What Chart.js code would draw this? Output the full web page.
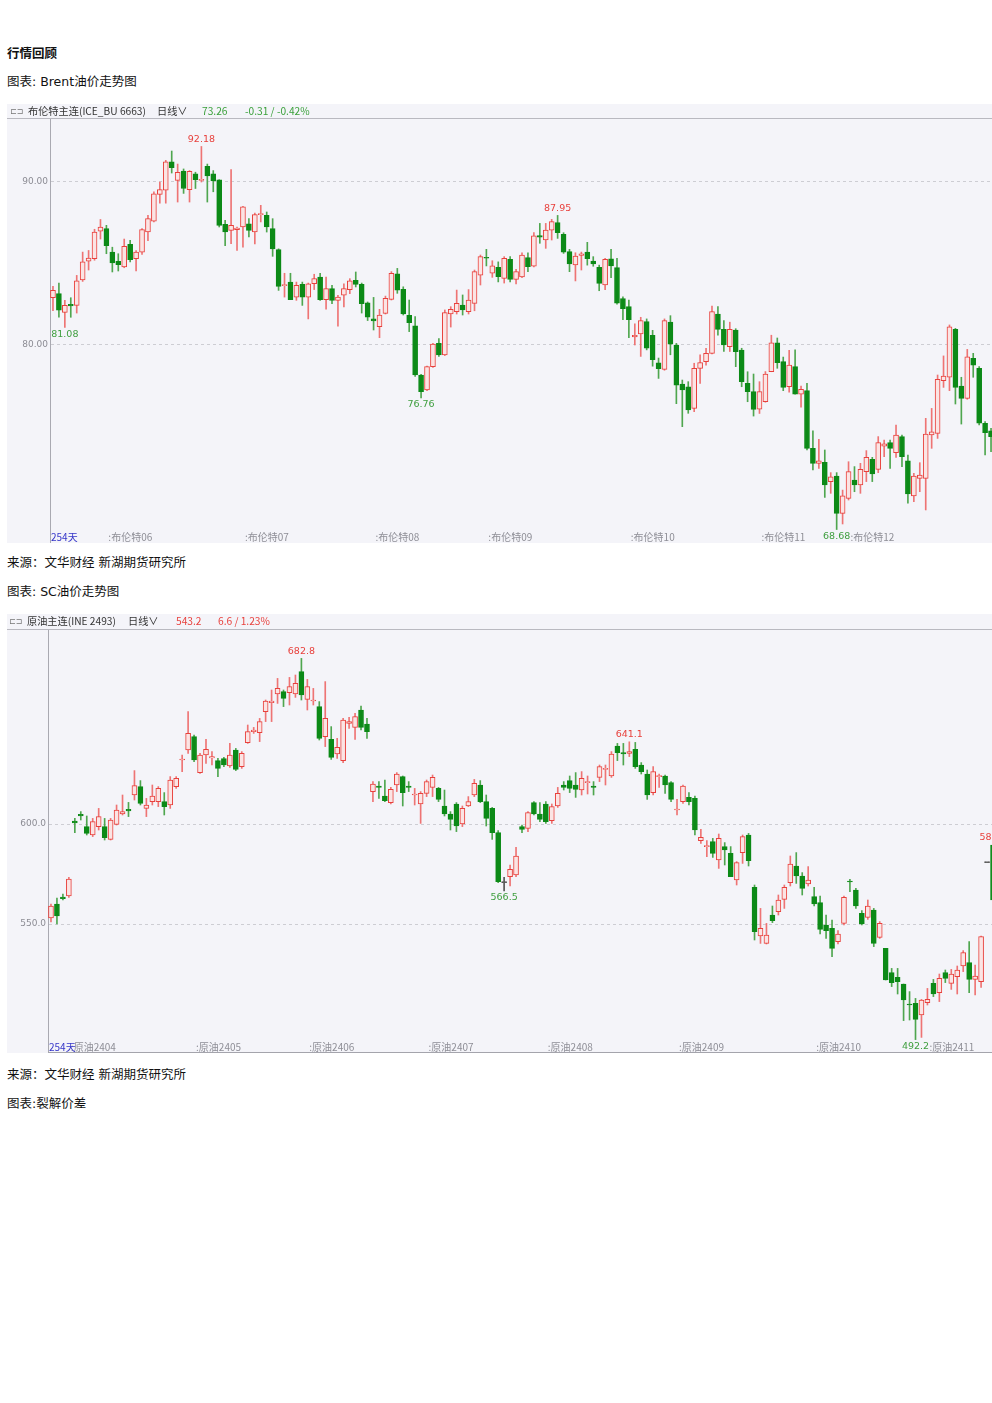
<!DOCTYPE html>
<html lang="zh-CN">
<head>
<meta charset="utf-8">
<title>行情回顾</title>
<script src="https://cdn.jsdelivr.net/npm/chart.js@4.4.1/dist/chart.umd.min.js"></script>
<style>
  html, body { margin:0; padding:0; background:#fff; }
  body { width:992px; height:1403px; position:relative; overflow:hidden; font-family:"DejaVu Sans","Noto Sans CJK SC",sans-serif; color:#111; }
  .t { position:absolute; left:7px; font-size:12.5px; line-height:14px; white-space:nowrap; }
  .b { font-weight:bold; font-family:"Noto Sans CJK SC",sans-serif; font-size:12.5px; }
  .panel { position:absolute; left:7px; width:990px; height:439px; background:#f4f4f9; overflow:hidden; }
  .panel canvas { position:absolute; left:0; top:0; }
  .hdr { position:absolute; left:0; top:0; right:0; border-bottom:1px solid #b9b9c0; font-family:"Noto Sans CJK SC","DejaVu Sans",sans-serif; font-size:10.2px; line-height:14px; white-space:nowrap; color:#333; z-index:2; }
  .hdr span { position:absolute; top:0; }
  .ico { color:#777; font-size:8px; }
  .g { color:#3aa03a; }
  .r { color:#e8403c; }
  .bline { position:absolute; height:1px; background:#a4a4ac; z-index:2; }
</style>
</head>
<body>
<div class="t b" style="top:46px;">行情回顾</div>
<div class="t" style="top:75px;">图表: Brent油价走势图</div>

<div class="panel" style="top:104px;">
  <div class="hdr" style="height:14px;">
    <span class="ico" style="left:3px;">⊏⊐</span>
    <span style="left:21px;">布伦特主连(ICE_BU 6663)</span>
    <span style="left:150px;">日线∨</span>
    <span class="g" style="left:195px;">73.26</span>
    <span class="g" style="left:238px;">-0.31 / -0.42%</span>
  </div>
  <canvas id="brent" width="987" height="439"></canvas>
</div>

<div class="t" style="top:556px;">来源：文华财经 新湖期货研究所</div>
<div class="t" style="top:585px;">图表: SC油价走势图</div>

<div class="panel" style="top:614px;">
  <div class="hdr" style="height:15px;">
    <span class="ico" style="left:2px;">⊏⊐</span>
    <span style="left:20px;">原油主连(INE 2493)</span>
    <span style="left:121px;">日线∨</span>
    <span class="r" style="left:169px;">543.2</span>
    <span class="r" style="left:211px;">6.6 / 1.23%</span>
  </div>
  <canvas id="sc" width="989" height="439"></canvas>
  <div class="bline" style="left:41px; top:438px; width:960px;"></div>
</div>

<div class="t" style="top:1068px;">来源：文华财经 新湖期货研究所</div>
<div class="t" style="top:1097px;">图表:裂解价差</div>

<script>
// ---------------- Brent daily OHLC (one entry per trading day) ----------------
const brentOpen = [
  82.9,83.15,82.0,82.5,82.43,84.0,85.15,85.3,86.99,87.14,
  85.7,85.13,84.79,86.18,85.3,85.7,86.93,87.6,89.24,89.5,
  91.23,90.1,90.67,89.53,90.5,90.1,90.96,90.5,90.14,87.4,
  87.03,87.08,87.24,87.44,86.93,88.0,87.96,87.14,85.85,83.64,
  83.86,82.94,83.72,82.94,83.76,84.17,82.78,83.46,82.74,83.05,
  83.4,83.97,83.72,82.58,
  81.6,81.12,81.94,82.8,84.36,83.41,81.82,81.17,78.16,77.24,
  78.67,80.1,79.39,81.9,82.04,82.45,82.04,82.55,84.29,85.38,
  84.4,84.76,84.09,85.26,84.03,84.17,85.36,84.83,86.71,86.44,
  87.05,87.51,86.79,85.73,84.91,85.5,85.7,85.15,84.76,83.68,
  85.28,84.75,82.85,82.35,80.5,80.68,81.43,80.6,78.9,78.5,
  81.4,79.99,
  77.61,77.44,76.11,78.57,78.98,79.49,81.9,80.96,79.9,80.92,
  79.69,77.65,77.14,76.06,76.52,78.36,80.14,78.98,77.44,78.67,
  76.99,77.2,73.66,72.74,72.8,71.62,71.96,69.67,70.59,71.72,
  71.41,72.23,72.99,72.37,73.8,74.01,73.4,74.38,72.9,70.74,
  71.82,71.82,74.48,74.58,77.81,78.02,80.96,77.48,76.73,79.18,
  78.57,75.2,74.74
];
const brentHigh = [
  83.6,83.8,82.74,82.9,84.27,85.7,85.8,87.1,87.7,87.34,
  86.0,85.6,86.5,86.42,85.8,87.14,87.96,89.39,90.0,91.33,
  91.9,91.1,90.8,90.7,90.6,92.18,91.1,90.7,90.14,87.65,
  90.76,87.24,88.5,87.75,88.1,88.57,88.16,87.75,85.9,84.4,
  84.4,83.86,83.86,83.8,84.34,84.4,84.17,83.66,83.05,83.76,
  84.07,84.48,83.8,82.64,
  82.92,82.19,83.0,84.5,84.7,83.57,82.76,81.74,78.2,78.7,
  80.1,80.4,82.15,82.35,83.37,83.07,83.4,84.6,85.52,85.87,
  85.17,85.1,85.42,85.42,84.64,85.66,85.66,86.89,87.46,87.46,
  87.71,87.95,86.89,85.87,85.66,85.7,86.3,85.42,84.9,85.32,
  85.87,85.32,82.95,82.76,81.3,81.7,81.6,80.9,79.2,81.6,
  81.8,80.1,
  77.85,77.75,78.88,79.39,79.8,82.39,82.35,81.5,81.4,81.0,
  79.8,78.36,78.22,77.75,78.37,80.6,80.43,79.26,79.67,79.7,
  77.48,77.65,74.74,74.21,73.56,72.17,72.17,71.1,72.84,72.54,
  72.74,73.52,73.11,74.38,74.17,74.17,75.09,74.48,73.25,72.13,
  72.78,75.5,76.11,78.16,79.33,81.23,81.02,78.02,79.73,79.49,
  78.67,75.3,74.89
];
const brentLow = [
  82.1,81.7,81.08,81.7,81.96,83.9,84.6,85.2,86.5,85.6,
  84.48,84.54,84.74,85.1,84.54,85.56,86.4,87.55,88.7,88.7,
  90.55,88.77,89.3,88.77,89.6,90.0,88.77,89.4,87.24,86.1,
  86.22,85.8,86.0,86.63,86.2,87.55,86.93,85.44,83.35,82.94,
  82.78,82.74,82.43,81.6,83.4,82.74,82.2,82.54,81.15,82.33,
  83.15,83.56,81.96,81.5,
  80.92,80.45,81.9,82.76,83.17,81.84,80.82,78.08,76.76,77.2,
  78.63,79.3,79.35,81.1,81.9,81.84,81.9,82.1,83.68,84.85,
  84.15,83.87,83.8,83.87,83.74,84.13,84.5,84.79,86.24,85.93,
  86.44,86.54,85.62,84.5,83.93,84.6,84.9,84.83,83.33,83.4,
  84.13,82.5,81.56,80.45,80.0,79.3,79.7,78.7,77.95,78.45,
  79.4,76.4,
  74.99,75.81,75.91,77.65,78.77,79.45,80.61,79.6,79.6,78.67,
  77.44,76.52,75.64,75.8,76.49,78.36,78.57,77.2,77.1,76.99,
  76.18,73.56,72.33,72.43,70.65,70.9,68.68,69.02,70.49,71.0,
  70.9,71.62,71.62,72.17,73.15,72.43,73.11,72.54,70.29,70.39,
  71.0,69.88,73.66,74.27,77.4,77.2,76.38,75.15,76.67,78.02,
  75.09,73.25,73.46
];
const brentClose = [
  83.35,82.13,82.43,82.4,83.93,85.1,85.34,86.93,87.24,86.1,
  85.03,84.93,86.05,85.24,85.7,87.08,87.75,89.28,89.53,91.23,
  90.88,90.6,89.6,90.65,90.14,90.14,90.37,90.06,87.34,86.93,
  87.34,87.18,88.47,87.03,88.0,88.06,87.24,85.9,83.6,83.68,
  82.78,83.66,82.94,83.76,84.07,82.78,83.46,82.74,82.94,83.46,
  83.93,83.72,82.54,81.7,
  81.47,81.84,82.86,84.4,83.37,81.9,81.37,78.16,77.14,78.67,
  80.06,79.39,81.99,82.19,82.56,82.15,82.76,84.5,85.42,85.32,
  84.85,84.19,85.32,84.03,84.5,85.52,84.8,86.69,86.61,87.05,
  87.57,86.89,85.69,84.97,85.46,85.6,85.3,84.97,83.78,85.26,
  84.85,82.56,82.23,81.56,80.6,81.5,79.8,79.1,78.55,81.5,
  80.05,77.53,
  77.24,76.01,78.57,78.92,79.49,82.05,80.96,80.0,80.96,79.59,
  77.75,77.14,76.05,77.14,78.22,80.14,78.92,77.4,78.77,76.99,
  77.28,73.66,72.74,72.9,71.41,71.92,69.67,70.74,72.23,71.41,
  72.37,73.11,72.09,74.01,73.93,73.66,74.48,73.15,70.86,71.96,
  72.02,74.54,74.68,77.89,78.1,81.12,77.4,76.73,79.28,78.77,
  75.2,74.62,74.38
];
const brentYTicks = [80, 90];
const brentContractStart = [10, 33, 55, 74, 98, 120, 135];
const brentContractNames = ['布伦特06','布伦特07','布伦特08','布伦特09','布伦特10','布伦特11','布伦特12'];
const brentHighMarks = [25, 85];
const brentLowMarks = [2, 62, 132];

// ---------------- SC crude daily OHLC ----------------
const scOpen = [
  553,560,563.5,564,601.5,604.8,598.7,594.5,598.7,598.7,
  592.3,599.8,605,607.3,614.5,618.7,607.8,611.2,611.2,611.2,
  609.5,618.7,632,637,643.7,625.7,634.5,633,631.7,632.7,
  629,637,628.7,640.7,646.2,645.7,656.2,660.7,665,666.2,
  665.7,665,676.2,662.3,661.5,658.7,643.7,642.3,635,631.7,
  650.3,648.3,657,650,616.2,619,614,610.7,619.5,623.7,
  619,614.5,610,615.3,618.3,617.8,609,605,610,600,
  609,614.5,619.5,611.2,607.8,595.7,570.7,573.7,574.5,598.7,
  597.8,610.7,605,610,601.7,609,619.5,621.7,619.5,617,
  620.7,619,623.3,627.3,624,639,635.7,635.3,637.3,629.5,
  625,615.7,623.7,624,620.7,607,611.2,613.3,612.8,591.7,
  588.7,591.2,582,588.7,585.3,572,585.7,594.5,568.3,544,
  540.3,554.5,556.2,562.3,570.7,579,574,570,563.7,560.7,
  549.5,547.8,541.2,550.3,571.3,567,555.3,553.3,557,543.3,
  537.8,525.7,523.3,520,510,510.3,504.5,510.7,520.3,515.7,
  525.7,520.3,523.7,529,530.7,522.3,521.2,580.7,589.5
];
const scHigh = [
  560,563,565,573.3,602.8,606.2,604,602.8,607.8,602.8,
  602.8,609.5,614.5,610.8,626.7,621.7,612.8,619.5,618.7,615.7,
  623.7,623.7,634.5,656.2,644.5,635.3,642.3,636.2,632.8,633.3,
  640.3,637.8,636.2,649.5,648.3,652.8,662,667,672.8,667,
  673.3,674.5,682.8,672.3,667.8,661.2,671.2,648.7,642.8,652.8,
  653.3,655.3,659,652.8,621.2,621.2,622,618.3,625.7,624,
  621.2,617.8,616.2,622,624.5,618.3,617,606.2,610.7,609,
  613.7,622.3,621.7,614.5,608.3,596.7,573.3,579.5,588.3,599.5,
  606.2,611.2,610.7,611.2,610,618.3,621.2,624,625.7,626.2,
  624,621.2,629.5,629.5,636.2,640.3,640.3,641.1,640.8,630.7,
  627,628.7,625,624.5,621.2,612.3,619.5,615.7,614,597.3,
  591.7,592.8,595,590.7,588.7,581.2,594.5,595.3,569.5,557.8,
  550.3,559,564.5,569.5,584,585.7,575.7,578.7,568.3,564,
  554.5,552,546.7,564,572.3,567.8,556.7,562,557.8,551.2,
  537.8,527.8,527.8,520,516.2,512.8,512.3,517.8,522.3,525,
  527,527.3,529,536.7,541.2,529.5,544,580.7,589.5
];
const scLow = [
  551,550,562,563.3,595.7,602,594.5,593.7,597,592,
  592,599.5,604.5,603.7,612,609.5,603.7,609.5,608.7,604.5,
  607.8,617.8,626.2,635.3,631.2,625.3,630.3,629.5,623.7,628.7,
  628.3,626.7,627.8,640.3,645.3,641.2,651.2,651.2,660.3,658.7,
  659.5,663.3,662,657,659.5,642,638.7,632.3,632.8,630.7,
  647.8,642.3,647,642.8,611.2,612.8,611.2,610,616.2,609,
  616.2,609.5,600.3,613.7,613.7,611.2,604,597,596.2,598.7,
  608.7,613.7,610.7,599,592.3,570.7,566.5,569,573.7,595.7,
  596.2,604.5,601.2,600.3,600.3,608.3,617,615.7,613.3,614.5,
  615,614.5,621.2,619.5,623.3,631.7,629.5,633.7,627.8,625,
  612.3,614.5,618.3,615.3,611.2,604.5,610.3,609.5,594.5,590.3,
  583.7,583.3,577.8,579.5,573.7,569.5,580.3,579,542,540.3,
  540,550.7,554.5,557.8,569,570.3,564.5,569,559,545,
  542.8,533.7,540,549.5,566.2,557.8,549.5,552.3,538.7,542.8,
  522,518.7,515,501.7,502,492.2,493.3,509.5,513.7,511.2,
  520.7,517.3,515,526.2,515.7,514.5,518.3,580.7,562
];
const scClose = [
  559,554,562.7,572.5,600.5,604,595.3,601.2,603.7,593.2,
  602,607,606.2,606.5,619.2,610.3,609.5,614,617.8,608.7,
  622,622.8,632.5,645.3,632,634.5,637.3,633.7,627.8,629.5,
  634.5,627.3,635.3,646.2,647,651.2,661.5,661.5,667.8,662.8,
  668.7,670.3,664.5,668.7,662,642.8,652.8,633.3,638.3,652,
  651.2,653.7,648.3,646.2,620,618.3,611.7,617.3,625,615.7,
  618.3,615,615.3,621.2,623.3,612.3,605,602.3,599,607.8,
  611.2,620.3,611.2,602.8,595.7,571.2,570.7,577.3,584,597.3,
  605.7,605,602.3,601.2,608.7,615.3,618.3,617.8,617.3,622.8,
  621.2,618.3,628.7,627.7,635,635.7,635,636.2,628.7,626.2,
  614.5,626.2,624.2,619.5,612.3,607.3,619,611.2,597,593.3,
  589.2,585.3,592.8,587,573.7,580.7,593.7,581.7,546.2,547.8,
  544.5,551.7,562,568.3,580,574,567.8,572,560,547.3,
  546.7,537.8,545,563.3,571,559,550,559,540.3,550.3,
  522,520.7,521.2,512,509.5,502.3,512,512.3,515,522.8,
  522.8,525,527,535.7,522.3,524,543.7,580.7,562
];
const scYTicks = [550, 600];
const scContractStart = [4, 25, 44, 64, 84, 106, 129, 148];
const scContractNames = ['原油2404','原油2405','原油2406','原油2407','原油2408','原油2409','原油2410','原油2411'];
const scHighMarks = [42, 97, 158];
const scLowMarks = [76, 145];
const daysLabel = '254天';

// ---------------- drawing ----------------
const UP = '#e8403c', UP_FILL = '#fbe4e4', UP_WICK = '#ee7474';
const DN = '#0c8a17', DN_WICK = '#4fa64f';
const EQ = '#555555';
const MARK_RED = '#e8403c', MARK_GREEN = '#3e9e3e';

const kLabelPlugin = {
  id: 'kLabels',
  afterDraw(chart, args, cfg) {
    const { ctx, chartArea } = chart;
    const x = chart.scales.x, y = chart.scales.y;
    const step = x.getPixelForValue(1) - x.getPixelForValue(0);
    ctx.save();
    ctx.textBaseline = 'middle';
    ctx.textAlign = 'left';
    ctx.font = '10px "Noto Sans CJK SC"';
    ctx.fillStyle = '#8e8e96';
    cfg.starts.forEach((idx, k) => {
      const px = x.getPixelForValue(idx) - step / 2;
      ctx.fillText(':' + cfg.names[k], px - 1, cfg.labelY);
    });
    ctx.fillStyle = '#3434c8';
    ctx.fillText(cfg.days, chartArea.left + 1, cfg.labelY);
    ctx.font = '9.5px "DejaVu Sans"';
    ctx.textAlign = 'center';
    cfg.highs.forEach(i => {
      ctx.fillStyle = MARK_RED;
      ctx.fillText(cfg.hi[i].toFixed(cfg.dec), x.getPixelForValue(i), y.getPixelForValue(cfg.hi[i]) - 7);
    });
    cfg.lows.forEach(i => {
      ctx.fillStyle = MARK_GREEN;
      ctx.fillText(cfg.lo[i].toFixed(cfg.dec), x.getPixelForValue(i), y.getPixelForValue(cfg.lo[i]) + 7);
    });
    ctx.restore();
  }
};

function candleChart(id, o, h, l, c, opt) {
  const days = o.map((_, i) => String(i + 1));
  const kind = o.map((v, i) => c[i] > v ? 'up' : (c[i] < v ? 'dn' : 'eq'));
  return new Chart(document.getElementById(id), {
    type: 'bar',
    data: {
      labels: days,
      datasets: [
        {
          label: 'body',
          data: o.map((v, i) => [v, c[i]]),
          backgroundColor: kind.map(k => k === 'up' ? UP_FILL : (k === 'dn' ? DN : EQ)),
          borderColor: kind.map(k => k === 'up' ? UP : (k === 'dn' ? DN : EQ)),
          borderWidth: 1,
          borderSkipped: false,
          grouped: false,
          barPercentage: 1,
          categoryPercentage: 1,
          maxBarThickness: 5,
          minBarLength: 1
        },
        {
          label: 'wick',
          data: l.map((v, i) => [v, h[i]]),
          backgroundColor: kind.map(k => k === 'up' ? UP_WICK : (k === 'dn' ? DN_WICK : EQ)),
          borderWidth: 0,
          grouped: false,
          barPercentage: 1,
          categoryPercentage: 1,
          maxBarThickness: 1
        }
      ]
    },
    options: {
      responsive: false,
      animation: false,
      devicePixelRatio: 1,
      layout: { padding: { top: opt.padTop, bottom: opt.padBottom, left: 0, right: 0 } },
      plugins: {
        legend: { display: false },
        tooltip: { enabled: false },
        kLabels: {
          starts: opt.starts, names: opt.names, days: daysLabel, labelY: 433,
          highs: opt.highs, lows: opt.lows, hi: h, lo: l, dec: opt.dec
        }
      },
      scales: {
        x: { type: 'category', display: false, offset: true, grid: { display: false } },
        y: {
          min: opt.min, max: opt.max, position: 'left',
          afterBuildTicks: s => { s.ticks = opt.yTicks.map(v => ({ value: v })); },
          afterFit: s => { s.width = opt.axisW; s.paddingTop = 0; s.paddingBottom = 0; },
          ticks: { callback: v => Number(v).toFixed(opt.dec === 2 ? 2 : 1), color: '#8c8c94', font: { size: 9, family: 'DejaVu Sans' }, padding: 2, autoSkip: false },
          grid: { color: '#cdcdd3', drawTicks: false },
          border: { display: true, color: '#a9a9b1', dash: [3, 3] }
        }
      }
    },
    plugins: [kLabelPlugin]
  });
}

candleChart('brent', brentOpen, brentHigh, brentLow, brentClose, {
  padTop: 14, padBottom: 0, axisW: 43,
  min: 67.853, max: 93.926, yTicks: brentYTicks, dec: 2,
  starts: brentContractStart, names: brentContractNames,
  highs: brentHighMarks, lows: brentLowMarks
});
candleChart('sc', scOpen, scHigh, scLow, scClose, {
  padTop: 15, padBottom: 1, axisW: 41,
  min: 486, max: 697.5, yTicks: scYTicks, dec: 1,
  starts: scContractStart, names: scContractNames,
  highs: scHighMarks, lows: scLowMarks
});
</script>
</body>
</html>
